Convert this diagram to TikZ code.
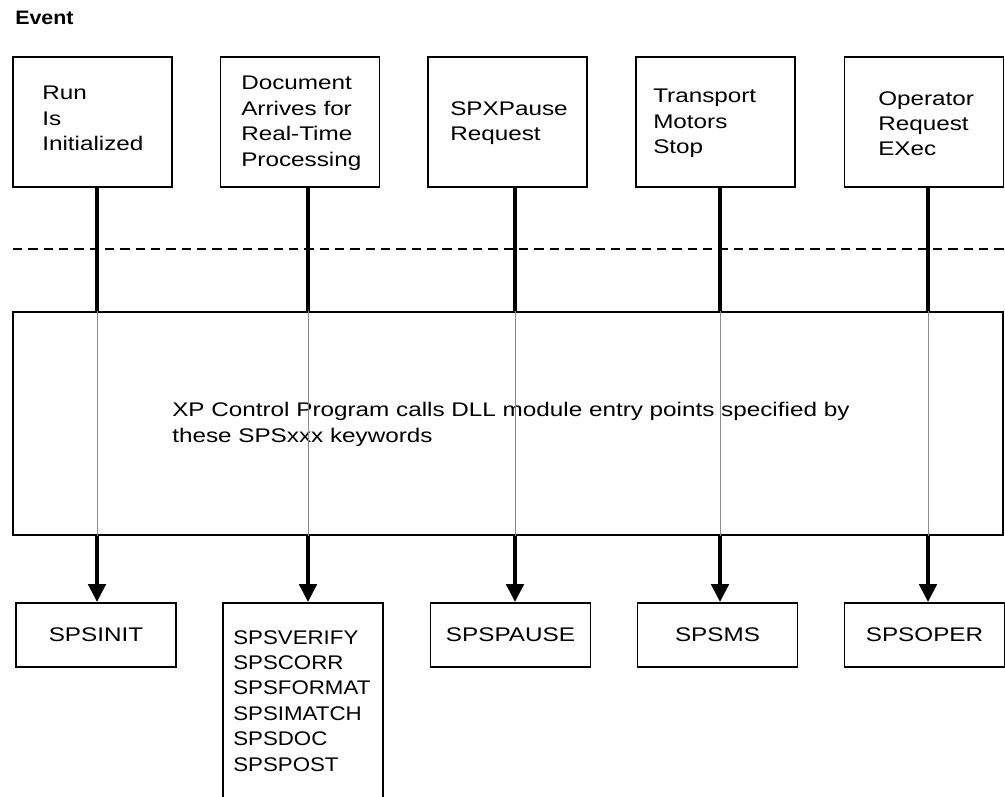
\documentclass[tikz,border=0pt]{standalone}
\usepackage{fontspec}
\setmainfont{Liberation Sans}[FakeStretch=1.23]
\newfontfamily\eventfont{Liberation Sans}[FakeStretch=1.1]
\newfontfamily\listfont{Liberation Sans}[FakeStretch=1.13]
\usetikzlibrary{arrows.meta}

\tikzset{
  evbox/.style={draw, line width=1.3pt, rectangle, inner sep=0pt,
    minimum width=119.25pt, minimum height=97.5pt},
  outbox/.style={draw, line width=1.3pt, rectangle, inner sep=0pt,
    minimum width=120pt, minimum height=48pt},
  lbl/.style={inner sep=0pt, align=left, anchor=north west},
  feed/.style={line width=3pt},
  thru/.style={line width=0.6pt, draw=black!45},
  call/.style={line width=3.6pt,
    -{Triangle[length=13.5pt,width=12.75pt]}},
  divider/.style={line width=2pt, dash pattern=on 7pt off 4.5pt}
}

\begin{document}
\begin{tikzpicture}[x=0.75pt, y=-0.75pt,
  every node/.style={font=\fontsize{14.8}{19.1}\selectfont}]
\useasboundingbox (0,0) rectangle (1005,796);
\clip (0,0) rectangle (1005,796);

% heading
\node[lbl, font=\eventfont\bfseries\fontsize{14.6}{16}\selectfont] (event) at (15,11) {Event};

% line positions of the five event paths
\coordinate (p1) at (97,0);
\coordinate (p2) at (308,0);
\coordinate (p3) at (515,0);
\coordinate (p4) at (720,0);
\coordinate (p5) at (928,0);

% event boxes
\node[evbox] (e1) at (92.5,122) {};
\node[evbox] (e2) at (300,122) {};
\node[evbox] (e3) at (507.5,122) {};
\node[evbox] (e4) at (715.5,122) {};
\node[evbox] (e5) at (924,122) {};

\node[lbl] (e1t) at (42,86) {Run\\Is\\Initialized};
\node[lbl] (e2t) at (241,76) {Document\\Arrives for\\Real-Time\\Processing};
\node[lbl] (e3t) at (450,101) {SPXPause\\Request};
\node[lbl] (e4t) at (653,89) {Transport\\Motors\\Stop};
\node[lbl] (e5t) at (878,91) {Operator\\Request\\EXec};

% boundary
\draw[divider] (13,249) -- (1005,249);

% control program box
\node[draw, line width=1.3pt, rectangle, inner sep=0pt,
  minimum width=742.5pt, minimum height=167.25pt] (cp) at (508,423.5) {};
\node[lbl] (cpt) at (172,402) {XP Control Program calls DLL module entry points specified by\\these SPSxxx keywords};

% exit boxes
\node[outbox] (x1) at (96,635) {SPSINIT};
\node[draw, line width=1.3pt, rectangle, inner sep=0pt,
  minimum width=120pt, minimum height=151.5pt] (x2) at (303,704) {};
\node[lbl, font=\listfont\fontsize{14.8}{19.1}\selectfont] (x2t) at (233,630)
  {SPSVERIFY\\SPSCORR\\SPSFORMAT\\SPSIMATCH\\SPSDOC\\SPSPOST};
\node[outbox] (x3) at (510.5,635) {SPSPAUSE};
\node[outbox] (x4) at (717.5,635) {SPSMS};
\node[outbox] (x5) at (924.5,635) {SPSOPER};

% event feeds into the control program
\foreach \i in {1,...,5} {
  \draw[feed] (e\i.south -| p\i) -- (cp.north -| p\i);
  \draw[thru] (cp.north -| p\i) -- (cp.south -| p\i);
  \draw[call] (cp.south -| p\i) -- (x\i.north -| p\i);
}
\end{tikzpicture}
\end{document}
